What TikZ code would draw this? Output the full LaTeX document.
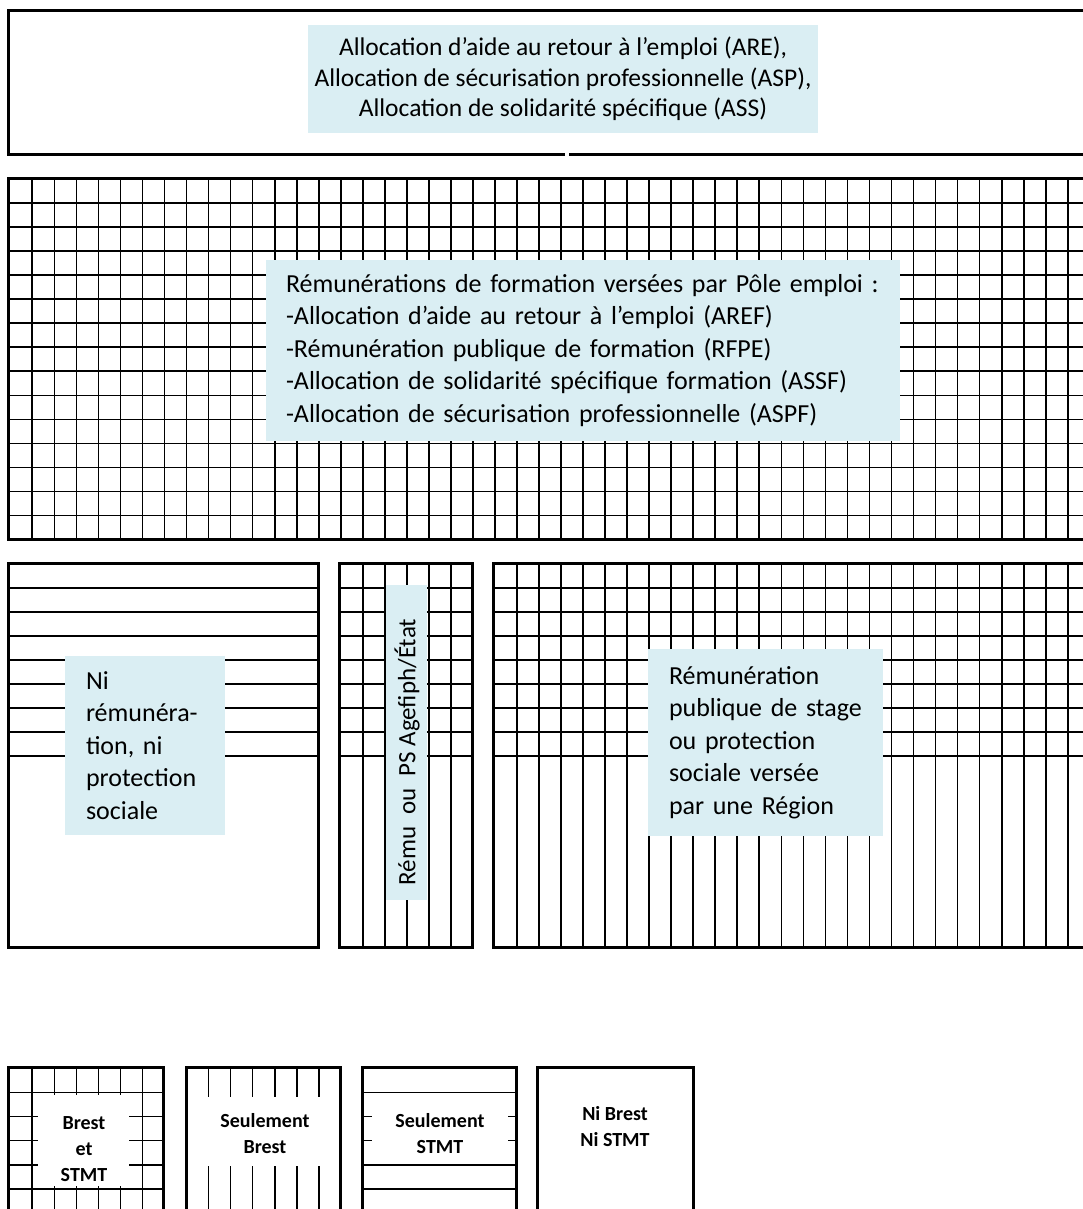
\documentclass[tikz,border=0pt]{standalone}
\usepackage{fontspec}
\setmainfont{Carlito}
\usepackage{tikz}
\usetikzlibrary{positioning}
\definecolor{lblue}{HTML}{DAEEF3}
\tikzstyle{frame}  =[line width=3pt]
\tikzstyle{hatch}  =[line width=1.7pt]
\tikzstyle{infobox}=[fill=lblue, inner sep=0pt, outer sep=0pt]
\tikzstyle{blank}  =[fill=white, inner sep=0pt, outer sep=0pt]
\tikzstyle{legtext}=[font=\bfseries\fontsize{20}{26}\selectfont,
                     align=center, inner sep=0pt]
\tikzstyle{bodytext}=[font=\fontsize{26}{32.5}\selectfont]

\begin{document}
\begin{tikzpicture}[x=1pt, y=-1pt]
        \clip (0,0) rectangle (1083,1209);
        \fill[white] (0,0) rectangle (1083,1209);

        % top box
        \node[infobox, minimum width=510pt, minimum height=108pt, align=center,
              font=\fontsize{25.5}{30.5}\selectfont] (are) at (563,79)
              {Allocation d’aide au retour à l’emploi (ARE),\\
               Allocation de sécurisation professionnelle (ASP),\\
               Allocation de solidarité spécifique (ASS)};
        \draw[frame] (565,155) -- (8,155) -- (8,11) -- (1100,11);
        \draw[frame] (569,155) -- (1100,155);

        % grid box
        \foreach \k in {1,...,48} \draw[hatch] ({10.3+22.03*\k},179) -- ++(0,360);
        \foreach \k in {1,...,14} \draw[hatch] (8,{179+24.04*\k}) -- ++(1092,0);
        \node[infobox, bodytext, minimum width=634pt, minimum height=181pt,
              text width=594pt, align=left] (pe) at (583,350.5)
              {Rémunérations de formation versées par Pôle emploi :\\
               -Allocation d’aide au retour à l’emploi (AREF)\\
               -Rémunération publique de formation (RFPE)\\
               -Allocation de solidarité spécifique formation (ASSF)\\
               -Allocation de sécurisation professionnelle (ASPF)};
        \draw[frame] (8,179) rectangle (1100,539);

        % middle row
        \foreach \k in {17,...,24}{
            \draw[hatch] (8,{179+24.04*\k}) -- (318,{179+24.04*\k});
            \draw[hatch] (339,{179+24.04*\k}) -- (472,{179+24.04*\k});
            \draw[hatch] (493,{179+24.04*\k}) -- (1100,{179+24.04*\k});
        }
        \foreach \k in {16,...,20} \draw[hatch] ({10.3+22.03*\k},563) -- ({10.3+22.03*\k},947);
        \foreach \k in {23,...,48} \draw[hatch] ({10.3+22.03*\k},563) -- ({10.3+22.03*\k},947);

        \node[infobox, bodytext, minimum width=160pt, minimum height=179pt,
              text width=118pt, align=left] (ni) at (145,745.5)
              {Ni\\ rémunéra-\\ tion, ni\\ protection\\ sociale};
        \node[infobox, minimum width=41pt, minimum height=315pt] (ps) at (406.5,742.5) {};
        \node[font=\fontsize{25}{30}\selectfont, rotate=90, inner sep=0pt] (pstext)
              at (407,752) {Rému\hspace{0.25em} ou\hspace{0.25em} PS Agefiph/État};
        \node[infobox, bodytext, minimum width=235pt, minimum height=187pt,
              text width=193pt, align=left] (reg) at (765.5,742.5)
              {Rémunération\\ publique de stage\\ ou protection\\ sociale versée\\ par une Région};

        \draw[frame] (8,563) rectangle (318,947);
        \draw[frame] (339,563) rectangle (472,947);
        \draw[frame] (493,563) rectangle (1100,947);

        % legend
        \foreach \k in {1,...,6} \draw[hatch] ({10.3+22.03*\k},1067) -- ++(0,170);
        \foreach \k in {38,...,42}{
            \draw[hatch] (8,{179+24.04*\k}) -- (163,{179+24.04*\k});
            \draw[hatch] (362,{179+24.04*\k}) -- (516,{179+24.04*\k});
        }
        \foreach \k in {9,...,14} \draw[hatch] ({10.3+22.03*\k},1067) -- ++(0,170);

        \node[blank, minimum width=91pt, minimum height=91pt] (wa) at (83.5,1140.5) {};
        \node[blank, minimum width=146pt, minimum height=69pt] (wb) at (263,1131.5) {};
        \node[blank, minimum width=136pt, minimum height=62pt] (wc) at (440,1129) {};
        \node[legtext] (ta) at (84,1149) {Brest\\ et\\ STMT};
        \node[legtext] (tb) at (265,1134) {Seulement\\ Brest};
        \node[legtext] (tc) at (440,1134) {Seulement\\ STMT};
        \node[legtext] (td) at (615,1127) {Ni Brest\\ Ni STMT};

        \draw[frame] (8,1067) rectangle (163,1240);
        \draw[frame] (186,1067) rectangle (340,1240);
        \draw[frame] (362,1067) rectangle (516,1240);
        \draw[frame] (537,1067) rectangle (693,1240);
\end{tikzpicture}
\end{document}
